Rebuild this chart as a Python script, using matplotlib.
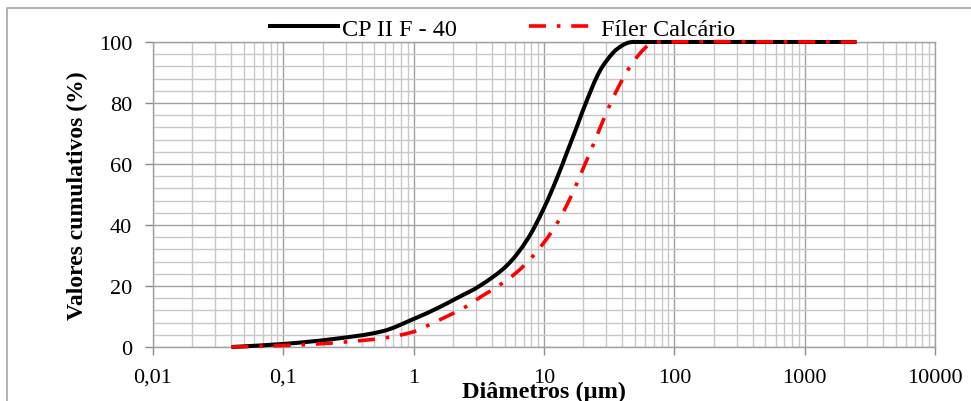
import matplotlib
matplotlib.use("Agg")
import numpy as np
import matplotlib.pyplot as plt
from matplotlib.patches import Rectangle, PathPatch
from matplotlib.path import Path
from matplotlib.lines import Line2D

# particle size distribution
cp_diam = [0.04, 0.1, 0.24, 0.58, 1.0, 1.5, 2.14, 3.23, 5.18, 7.38, 9.9, 12.5, 15.0,
           17.9, 21.3, 26.9, 34.1, 40, 45.7, 55, 2500]
cp_cum = [0, 1.0, 2.6, 5.2, 9.2, 12.6, 16.0, 20.1, 26.7, 35.0, 45.2, 55.1, 63.8,
          72.3, 80.8, 90.6, 96.6, 98.9, 99.9, 100, 100]

filer_diam = [0.04, 0.135, 0.29, 0.6, 1.0, 1.26, 2.47, 3.23, 4.6, 6.18, 8.15, 10.5, 12.7,
              15.4, 17.6, 20.1, 23.7, 26.9, 32.1, 37.2, 45.2, 54.6, 65.2, 78, 2500]
filer_cum = [0, 0.7, 1.6, 3.0, 5.0, 6.9, 13.0, 16.3, 20.4, 24.5, 29.6, 35.5, 40.8,
             47.6, 53.0, 58.8, 66.0, 71.8, 79.5, 85.2, 91.6, 96.3, 99.3, 100, 100]

series_names = ["CP II F - 40", "Fíler Calcário"]
x_ticks = [0.01, 0.1, 1, 10, 100, 1000, 10000]
x_tick_labels = ["0,01", "0,1", "1", "10", "100", "1000", "10000"]
y_ticks = [0, 20, 40, 60, 80, 100]


def smooth_path(xs, ys, tension=0.35):
    # Excel-style smoothed line: cubic bezier through the points,
    # tangents worked out in log-x / linear-y (i.e. screen) space
    u = np.log10(xs) * 130.3
    v = np.asarray(ys, dtype=float) * 3.05
    pts = np.column_stack([u, v])
    n = len(pts)
    tang = np.zeros_like(pts)
    for i in range(n):
        a = pts[max(i - 1, 0)]
        b = pts[min(i + 1, n - 1)]
        d = b - a
        tang[i] = d / np.hypot(*d)
    verts = [pts[0]]
    codes = [Path.MOVETO]
    for i in range(n - 1):
        seg = np.hypot(*(pts[i + 1] - pts[i]))
        verts += [pts[i] + tang[i] * seg * tension,
                  pts[i + 1] - tang[i + 1] * seg * tension,
                  pts[i + 1]]
        codes += [Path.CURVE4] * 3
    verts = np.array(verts)
    data = np.column_stack([10 ** (verts[:, 0] / 130.3), verts[:, 1] / 3.05])
    return Path(data, codes)


plt.rcParams["font.family"] = ["Liberation Serif", "DejaVu Serif"]

fig = plt.figure(figsize=(9.71, 4.02), dpi=100)
ax = fig.add_axes([153 / 971, 1 - 348 / 402, (935 - 153) / 971, (348 - 43) / 402])

# outer chart border (only left/top visible in the crop)
fig.patches.append(Rectangle((7 / 971, -0.2), 1.1, 1.2 - 9 / 402,
                             transform=fig.transFigure, fill=False,
                             edgecolor="#a6a6a6", lw=1.2))

red_style = (0, (4.7, 3.0, 1.0, 3.0))

ax.set_xscale("log")
ax.set_xlim(0.01, 10000)
ax.set_ylim(0, 100)

ax.add_patch(PathPatch(smooth_path(cp_diam, cp_cum), fill=False, edgecolor="black",
                       lw=2.9, zorder=3, clip_on=False))
ax.add_patch(PathPatch(smooth_path(filer_diam, filer_cum), fill=False, edgecolor="red",
                       lw=2.6, linestyle=red_style, capstyle="butt", zorder=4,
                       clip_on=False))

ax.set_xticks(x_ticks)
ax.set_xticklabels(x_tick_labels)
ax.set_yticks(y_ticks)
ax.set_yticks(range(0, 101, 4), minor=True)
ax.tick_params(axis="x", which="minor", length=0)
ax.tick_params(axis="y", which="minor", length=0)
ax.tick_params(axis="both", which="major", labelsize=16, length=6, width=1,
               color="#8c8c8c")
ax.tick_params(axis="x", pad=9)
ax.tick_params(axis="y", pad=9)

ax.grid(True, which="major", color="#a0a0a0", lw=1.0)
ax.grid(True, which="minor", color="#c8c8c8", lw=1.0)
ax.set_axisbelow(True)
for s in ax.spines.values():
    s.set_color("#a0a0a0")
    s.set_linewidth(1.0)

ax.set_xlabel("Diâmetros (µm)", fontsize=17.5, fontweight="bold", va="top")
ax.xaxis.set_label_coords(0.5, -0.112)
ax.set_ylabel("Valores cumulativos (%)", fontsize=17, fontweight="bold")
ax.yaxis.set_label_coords(-0.083, 0.5)

handles = [Line2D([], [], color="black", lw=2.9),
           Line2D([], [], color="red", lw=2.6, linestyle=red_style)]
ax.legend(handles, series_names, loc="center", bbox_to_anchor=(0.447, 1.043),
          ncol=2, frameon=False, fontsize=17.5, handlelength=2.8,
          handletextpad=0.15, columnspacing=3.0, borderaxespad=0)

fig.savefig("out.png", dpi=100)
